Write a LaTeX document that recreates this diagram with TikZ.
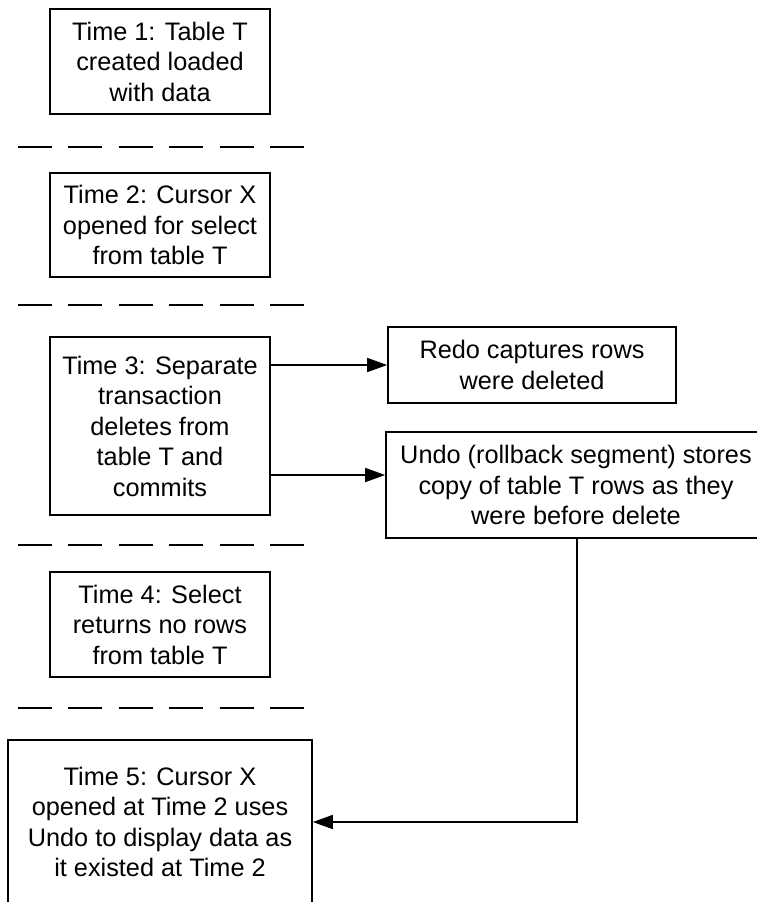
\documentclass[tikz,border=0pt]{standalone}
\usepackage{fontspec}
\setmainfont{Liberation Sans}
\usetikzlibrary{arrows.meta}

\begin{document}
\begin{tikzpicture}[x=1pt,y=-1pt,
  tbox/.style={draw=black, line width=1.7pt, rectangle, inner sep=0pt,
    align=center, font=\fontsize{25.3}{30.5}\selectfont, text=black},
  timerule/.style={line width=1.9pt, dash pattern=on 34pt off 16.4pt},
  link/.style={line width=1.7pt, -{Triangle[length=20pt,width=14pt]}}]

  \useasboundingbox (0,0) rectangle (757,902);

  % time steps down the left
  \node[tbox, minimum width=220pt, minimum height=105pt] (t1) at (160,61.5)
    {Time 1: Table T\\created loaded\\with data};
  \node[tbox, minimum width=220pt, minimum height=104pt] (t2) at (160,225)
    {Time 2: Cursor X\\opened for select\\from table T};
  \node[tbox, minimum width=220pt, minimum height=178pt] (t3) at (160,426)
    {Time 3: Separate\\transaction\\deletes from\\table T and\\commits};
  \node[tbox, minimum width=220pt, minimum height=105pt] (t4) at (160,624.5)
    {Time 4: Select\\returns no rows\\from table T};
  \node[tbox, minimum width=304pt, minimum height=164pt] (t5) at (160,822)
    {Time 5: Cursor X\\opened at Time 2 uses\\Undo to display data as\\it existed at Time 2};

  % redo and undo records
  \node[tbox, minimum width=288pt, minimum height=76pt] (redo) at (532,365)
    {Redo captures rows\\were deleted};
  \node[tbox, minimum width=380pt, minimum height=106pt] (undo) at (576,485)
    {Undo (rollback segment) stores\\copy of table T rows as they\\were before delete};

  % separators between the time steps
  \foreach \yy in {147,305,545,708}
    \draw[timerule] (18,\yy) -- (304,\yy);

  % connectors
  \coordinate (r3) at (t3.east |- redo.west);
  \coordinate (u3) at (270,475);
  \coordinate (bend) at (577,822);
  \draw[link] (r3) -- (redo.west);
  \draw[link] (u3) -- (undo.west |- u3);
  \draw[link] (undo.south -| bend) -- (bend) -- (t5.east |- bend);
\end{tikzpicture}
\end{document}
